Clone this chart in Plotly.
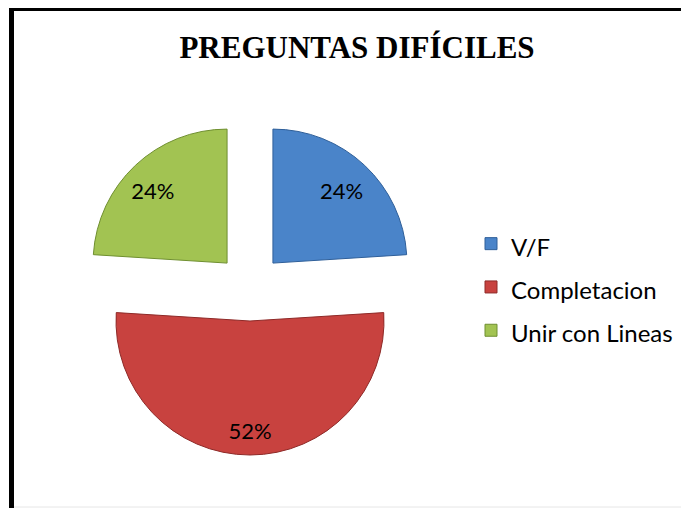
import plotly.graph_objects as go

categories = ["V/F", "Completacion", "Unir con Lineas"]
values = [24, 52, 24]
colors = ["#4a84c9", "#c8423f", "#a2c352"]
line_colors = ["#2f5f99", "#8e2a28", "#6f8f30"]
pulls = [0.25, 0.25, 0.25]
label_templates = [
    "&nbsp;&nbsp;&nbsp;&nbsp;&nbsp;%{percent:.0%}<br>&nbsp;",
    "&nbsp;<br>&nbsp;<br>&nbsp;<br>%{percent:.0%}",
    "%{percent:.0%}&nbsp;&nbsp;&nbsp;&nbsp;&nbsp;&nbsp;&nbsp;<br>&nbsp;",
]
title_text = "PREGUNTAS DIFÍCILES"

W, H = 689, 508
OFF = 8  # page body margin of the exported html


def px(x):
    return (x - OFF) / W


def py(y):
    return 1 - (y - OFF) / H


fig = go.Figure(
    go.Pie(
        labels=[f'<span style="font-size:24px">{c}</span>' for c in categories],
        values=values,
        sort=False,
        direction="clockwise",
        rotation=0,
        pull=pulls,
        marker=dict(colors=colors, line=dict(color=line_colors, width=1)),
        texttemplate=label_templates,
        textposition="inside",
        insidetextorientation="horizontal",
        textfont=dict(family="Lato", size=22, color="#000000"),
        hoverinfo="label+percent",
        domain=dict(x=[px(82.5), px(417.5)], y=[py(455), py(120)]),
    )
)

fig.update_layout(
    width=W,
    height=H,
    margin=dict(l=0, r=0, t=0, b=0),
    paper_bgcolor="white",
    plot_bgcolor="white",
    title=dict(
        text=f"<b>{title_text}</b>",
        font=dict(family="Liberation Serif", size=31, color="#000000"),
        x=px(357),
        xanchor="center",
        y=py(47),
        yanchor="middle",
        xref="paper",
        yref="paper",
    ),
    legend=dict(
        x=px(471),
        y=py(287),
        xanchor="left",
        yanchor="middle",
        font=dict(family="Lato", size=31, color="#000000"),
        bgcolor="rgba(0,0,0,0)",
        traceorder="normal",
    ),
    shapes=[
        dict(type="line", xref="paper", yref="paper", x0=px(9), x1=1, y0=py(8.5), y1=py(8.5),
             line=dict(color="black", width=5)),
        dict(type="line", xref="paper", yref="paper", x0=px(11.5), x1=px(11.5), y0=0, y1=py(6),
             line=dict(color="black", width=5)),
        dict(type="line", xref="paper", yref="paper", x0=px(14), x1=1, y0=py(507), y1=py(507),
             line=dict(color="#e6e6e6", width=1)),
    ],
)

fig.write_html("out.html")
